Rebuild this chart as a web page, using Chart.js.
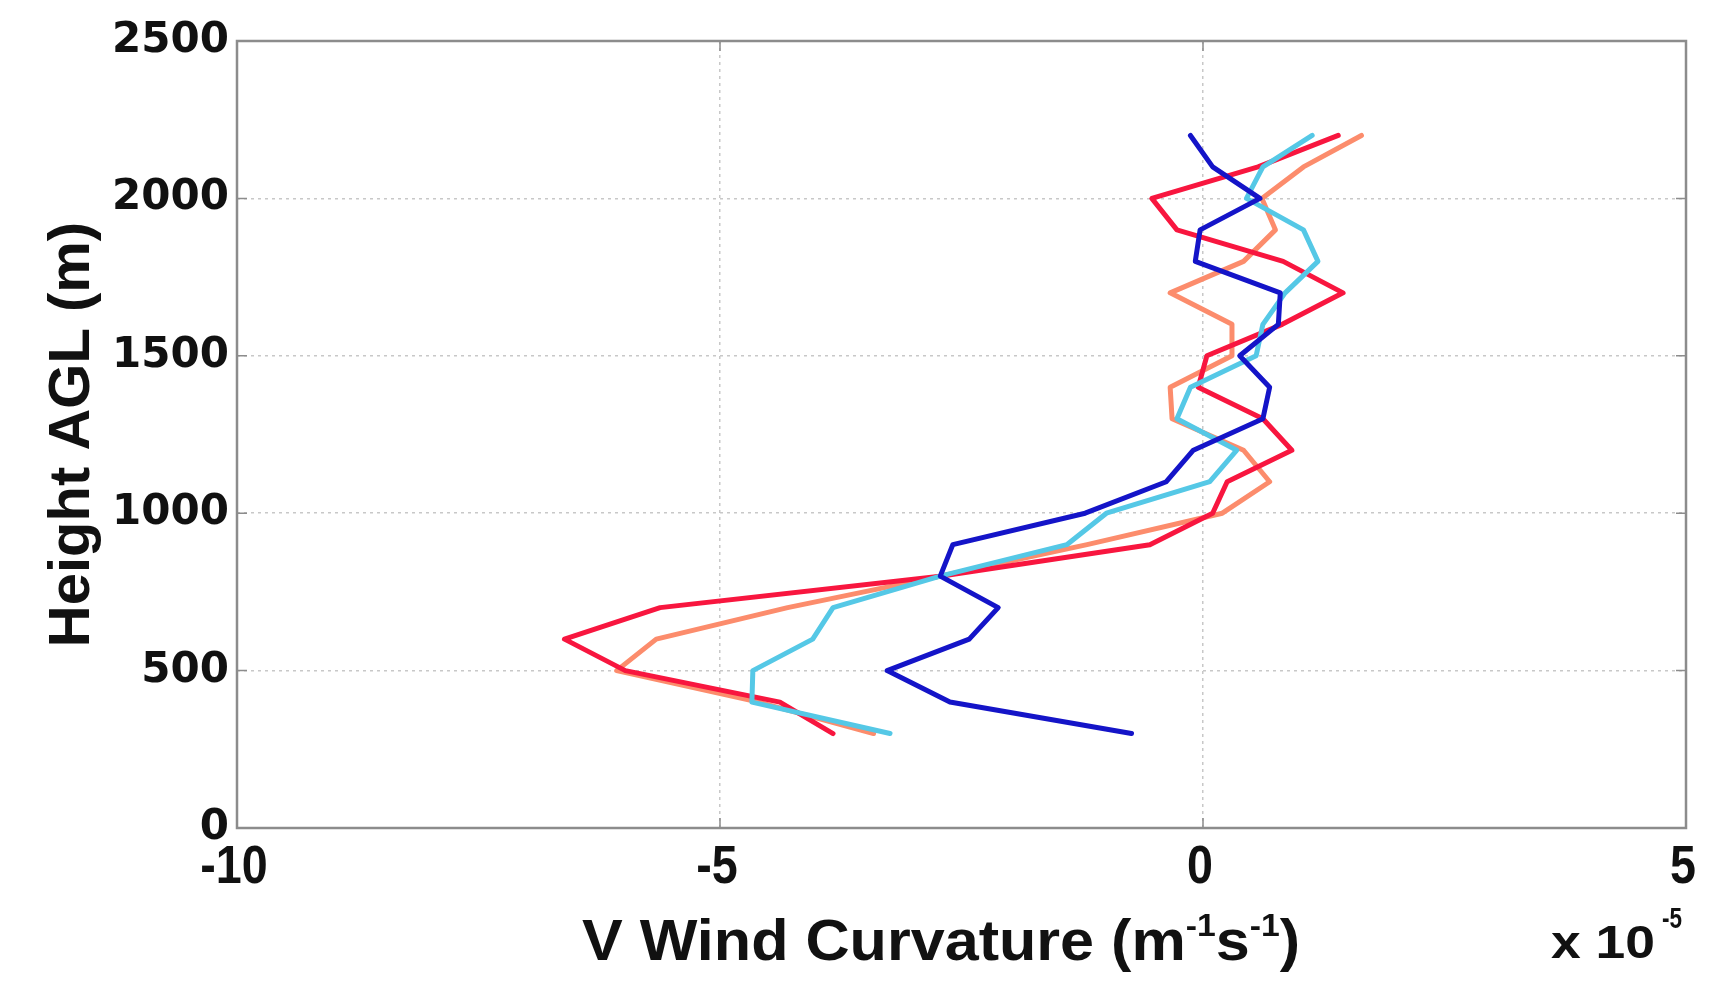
<!DOCTYPE html>
<html>
<head>
<meta charset="utf-8">
<script src="https://cdn.jsdelivr.net/npm/chart.js@4"></script>
<style>
  html, body { margin: 0; padding: 0; background: #fff; }
  #wrap { width: 1731px; height: 984px; }
</style>
</head>
<body>
<div id="wrap"><canvas id="curvChart" width="1731" height="984"></canvas></div>
<script>
// heights (m AGL)
const heights = [300, 400, 500, 600, 700, 800, 900, 1000, 1100, 1200, 1300, 1400, 1500, 1600, 1700, 1800, 1900, 2000, 2100, 2200];
// V wind curvature, units of 1e-5 m^-1 s^-1
const blueVals   = [-0.74, -2.62, -3.27, -2.42, -2.12, -2.72, -2.59, -1.22, -0.38, -0.10, 0.62, 0.69, 0.38, 0.78, 0.80, -0.08, -0.03, 0.59, 0.10, -0.13];
const cyanVals   = [-3.24, -4.67, -4.66, -4.04, -3.83, -2.72, -1.41, -1.00, 0.07, 0.35, -0.27, -0.13, 0.55, 0.62, 0.85, 1.19, 1.04, 0.45, 0.62, 1.13];
const redVals    = [-3.83, -4.38, -5.98, -6.61, -5.62, -2.72, -0.55, 0.10, 0.25, 0.92, 0.62, -0.05, 0.04, 0.82, 1.45, 0.83, -0.27, -0.53, 0.57, 1.40];
const salmonVals = [-3.41, -4.60, -6.07, -5.66, -4.30, -2.72, -1.20, 0.20, 0.69, 0.42, -0.32, -0.34, 0.30, 0.30, -0.34, 0.42, 0.75, 0.61, 1.04, 1.64];
const xTicks = [-10, -5, 0, 5];
const yTicks = [0, 500, 1000, 1500, 2000, 2500];

function toPoints(vals) {
  return heights.map(function (h, i) { return { x: vals[i], y: h }; });
}

// draws text pieces [text, size, dy] centred at cx; squeezed to targetW if given, else by sx
function drawPieces(ctx, pieces, cx, baseY, targetW, sx) {
  let w = 0;
  pieces.forEach(function (p) {
    ctx.font = "bold " + p[1] + "px 'Liberation Sans', Arial, sans-serif";
    w += ctx.measureText(p[0]).width;
  });
  const k = targetW ? targetW / w : sx;
  ctx.save();
  ctx.translate(cx - (w * k) / 2, baseY);
  ctx.scale(k, 1);
  let x = 0;
  pieces.forEach(function (p) {
    ctx.font = "bold " + p[1] + "px 'Liberation Sans', Arial, sans-serif";
    ctx.fillText(p[0], x, p[2]);
    x += ctx.measureText(p[0]).width;
  });
  ctx.restore();
}

// box, inner tick marks, x labels, axis title and the x10^-5 multiplier
const boxPlugin = {
  id: "box",
  afterDraw(chart) {
    const ctx = chart.ctx;
    const a = chart.chartArea;
    const xs = chart.scales.x, ys = chart.scales.y;
    ctx.save();
    ctx.strokeStyle = "#8c8c8c";
    ctx.lineWidth = 1.5;
    xTicks.forEach(function (v) {
      const px = xs.getPixelForValue(v);
      ctx.beginPath();
      ctx.moveTo(px, a.bottom); ctx.lineTo(px, a.bottom - 10);
      ctx.moveTo(px, a.top); ctx.lineTo(px, a.top + 10);
      ctx.stroke();
    });
    yTicks.forEach(function (v) {
      const py = ys.getPixelForValue(v);
      ctx.beginPath();
      ctx.moveTo(a.left, py); ctx.lineTo(a.left + 10, py);
      ctx.moveTo(a.right, py); ctx.lineTo(a.right - 10, py);
      ctx.stroke();
    });
    ctx.lineWidth = 2.5;
    ctx.strokeRect(a.left, a.top, a.right - a.left, a.bottom - a.top);

    ctx.fillStyle = "#111";
    ctx.textBaseline = "alphabetic";
    ctx.textAlign = "left";
    xTicks.forEach(function (v) {
      drawPieces(ctx, [[String(v), 53, 0]], xs.getPixelForValue(v) - 3, 883, 0, 0.88);
    });
    drawPieces(ctx, [
      ["V Wind Curvature (m", 58, 0],
      ["-1", 32, -24],
      ["s", 58, 0],
      ["-1", 32, -24],
      [")", 58, 0],
    ], 941, 960, 718);
    drawPieces(ctx, [["x 10", 46, 0]], 1603, 958, 104);
    drawPieces(ctx, [["-5", 30, 0]], 1672, 928, 20);
    ctx.restore();
  },
};

const gridColor = function (c) {
  const v = c.tick ? c.tick.value : null;
  if (v === c.scale.min || v === c.scale.max) return "rgba(0,0,0,0)";
  return "#c8c8c8";
};

const ctx = document.getElementById("curvChart").getContext("2d");
const curvChart = new Chart(ctx, {
  type: "scatter",
  data: {
    datasets: [
      { label: "blue", data: toPoints(blueVals), borderColor: "#1414c8", borderWidth: 5 },
      { label: "cyan", data: toPoints(cyanVals), borderColor: "#55c8e6", borderWidth: 5 },
      { label: "red", data: toPoints(redVals), borderColor: "#f8163f", borderWidth: 5 },
      { label: "salmon", data: toPoints(salmonVals), borderColor: "#fc8c6c", borderWidth: 5 },
    ],
  },
  options: {
    responsive: false,
    animation: false,
    showLine: true,
    elements: { point: { radius: 0 }, line: { tension: 0, borderJoinStyle: "round", borderCapStyle: "round" } },
    layout: { padding: { left: 34, top: 41, right: 45, bottom: 0 } },
    plugins: { legend: { display: false }, tooltip: { enabled: false } },
    scales: {
      x: {
        type: "linear",
        min: -10,
        max: 5,
        afterFit: function (s) { s.height = 156; },
        afterBuildTicks: function (s) { s.ticks = xTicks.map(function (v) { return { value: v }; }); },
        grid: { color: gridColor, lineWidth: 1.5, drawTicks: false },
        border: { display: false, dash: [3, 4] },
        ticks: { display: false },
        title: { display: false },
      },
      y: {
        type: "linear",
        min: 0,
        max: 2500,
        afterFit: function (s) { s.width = 203; },
        afterBuildTicks: function (s) { s.ticks = yTicks.map(function (v) { return { value: v }; }); },
        grid: { color: gridColor, lineWidth: 1.5, drawTicks: false },
        border: { display: false, dash: [3, 4] },
        ticks: {
          padding: 8,
          color: "#111",
          callback: function (v) { return String(v); },
          font: { family: "'DejaVu Sans', sans-serif", weight: "bold", size: 42 },
        },
        title: {
          display: true,
          text: "Height AGL (m)",
          color: "#111",
          padding: { top: 4, bottom: 4 },
          font: { family: "'Liberation Sans', Arial, sans-serif", weight: "bold", size: 58 },
        },
      },
    },
  },
  plugins: [boxPlugin],
});
</script>
</body>
</html>
